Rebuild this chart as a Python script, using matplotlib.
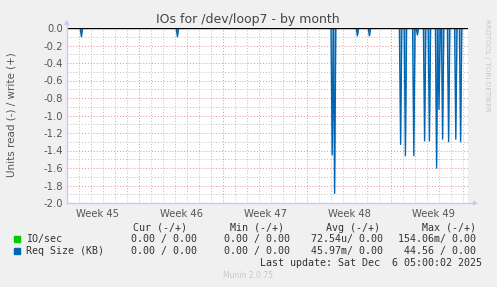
import numpy as np
import matplotlib
matplotlib.use('Agg')
import matplotlib.pyplot as plt

# spikes of Req Size (read side, drawn negative), position in days from left edge
spike_days = [1.25, 9.25, 22.08, 22.28, 24.25, 25.25, 27.83, 28.25, 28.86, 29.25,
              29.83, 30.25, 30.83, 31.03, 31.33, 31.78, 32.36, 32.78]
spike_vals = [-0.10, -0.10, -1.45, -1.89, -0.09, -0.09, -1.33, -1.46, -1.46, -0.08,
              -1.29, -1.29, -1.60, -0.93, -1.27, -1.30, -1.27, -1.30]
week_labels = ['Week 45', 'Week 46', 'Week 47', 'Week 48', 'Week 49']
week_centers = [2.5, 9.5, 16.5, 23.5, 30.5]
week_bounds = [6, 13, 20, 27]
yticks = [0.0, -0.2, -0.4, -0.6, -0.8, -1.0, -1.2, -1.4, -1.6, -1.8, -2.0]

W, H = 497, 287
fig = plt.figure(figsize=(W / 100, H / 100), dpi=100, facecolor='#f0f0f0')

def px(x, y):
    return x / W, 1 - y / H

ax = fig.add_axes([67 / W, 1 - 203 / H, (468 - 67) / W, 175 / H], facecolor='white')
xmax = (468 - 67) / 12

# build the series: zero everywhere, narrow V at each spike
t = np.arange(0, xmax, 0.1)
v = np.zeros_like(t)
for d, val in zip(spike_days, spike_vals):
    i = int(round(d / 0.1))
    v[i] = val

ax.set_xlim(0, xmax)
ax.set_ylim(-2.0, 0.0)

# grid
for d in np.arange(1, xmax, 1):
    if d in week_bounds:
        ax.axvline(d, color='#e09090', lw=0.7, ls=(0, (1, 2)), zorder=1)
    else:
        ax.axvline(d, color='#bdbdbd', lw=0.7, ls=(0, (1, 2)), zorder=1)
for yv in np.arange(-1.9, 0, 0.1):
    r = round(yv, 1)
    if abs(r * 5 - round(r * 5)) < 1e-6:
        ax.axhline(r, color='#e09090', lw=0.7, ls=(0, (1, 2)), zorder=1)
    else:
        ax.axhline(r, color='#bdbdbd', lw=0.7, ls=(0, (1, 2)), zorder=1)

ax.fill_between(t, v, 0, color='#0066b3', alpha=0.5, lw=0, zorder=2)
ax.plot(t, v, color='#0066b3', lw=1.0, zorder=3)
ax.plot(t, np.zeros_like(t), color='#00cc00', lw=0.8, zorder=3)
ax.axhline(0, color='black', lw=1.0, zorder=4)

for s in ax.spines.values():
    s.set_visible(False)
ax.tick_params(length=0, colors='#555555', labelsize=7.2)
ax.set_yticks(yticks)
ax.set_yticklabels(['%.1f' % y for y in yticks])
ax.set_xticks(week_centers)
ax.set_xticklabels(week_labels)
ax.tick_params(axis='x', pad=4)
ax.tick_params(axis='y', pad=3)

# axis lines with arrows
fig.add_artist(plt.Line2D([67 / W, 474 / W], [1 - 203 / H] * 2, color='#c8c8f0', lw=1))
fig.add_artist(plt.Line2D([67 / W] * 2, [1 - 203 / H, 1 - 24 / H], color='#c8c8f0', lw=1))
fig.text(*px(476, 203), '\u25b6', color='#c8c8f0', fontsize=5, ha='center', va='center')
fig.text(*px(67, 22), '\u25b2', color='#c8c8f0', fontsize=5, ha='center', va='center')

fig.text(*px(248, 19), 'IOs for /dev/loop7 - by month', ha='center', va='center',
         fontsize=9, color='#444444')
fig.text(*px(12, 115), 'Units read (-) / write (+)', rotation=90, ha='center', va='center',
         fontsize=7.5, color='#555555')
fig.text(*px(487, 65), 'RRDTOOL / TOBI OETIKER', rotation=270, ha='center', va='center',
         fontsize=5.2, color='#c8c8c8')

mono = dict(family='DejaVu Sans Mono', fontsize=7.2, color='#333333', va='center')
fig.text(*px(187, 228), 'Cur (-/+)', ha='right', **mono)
fig.text(*px(284, 228), 'Min (-/+)', ha='right', **mono)
fig.text(*px(380, 228), 'Avg (-/+)', ha='right', **mono)
fig.text(*px(476, 228), 'Max (-/+)', ha='right', **mono)

rows = [('IO/sec', '#00cc00', ['0.00 / 0.00', '0.00 / 0.00', '72.54u/ 0.00', '154.06m/ 0.00']),
        ('Req Size (KB)', '#0066b3', ['0.00 / 0.00', '0.00 / 0.00', '45.97m/ 0.00', '44.56 / 0.00'])]
rights = [197, 290, 383, 476]
for k, (name, col, vals) in enumerate(rows):
    y = 239 + k * 12
    fig.patches.append(plt.Rectangle(px(14, y + 3), 6 / W, 6 / H, color=col,
                                     transform=fig.transFigure, figure=fig))
    fig.text(*px(26, y), name, ha='left', **mono)
    for r, s in zip(rights, vals):
        fig.text(*px(r, y), s, ha='right', **mono)
fig.text(*px(482, 263), 'Last update: Sat Dec  6 05:00:02 2025', ha='right', **mono)
fig.text(*px(248, 276), 'Munin 2.0.75', ha='center', va='center', fontsize=5.5, color='#c8c8c8')

fig.savefig('out.png', dpi=100, facecolor=fig.get_facecolor())
